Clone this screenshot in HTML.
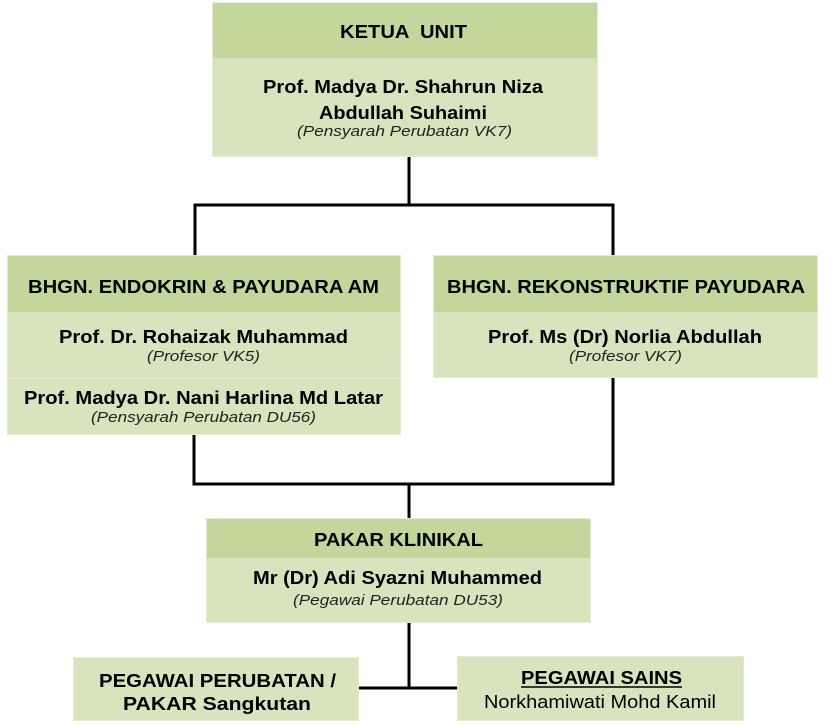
<!DOCTYPE html>
<html>
<head>
<meta charset="utf-8">
<style>
html,body{margin:0;padding:0;background:#fff;}
svg{display:block;}
text{font-family:"Liberation Sans",Arial,sans-serif;fill:#000;}
.b{font-weight:bold;font-size:18px;}
.i{font-style:italic;font-size:14.5px;fill:#222;}
.r{font-size:18px;}
</style>
</head>
<body>
<svg width="826" height="726" viewBox="0 0 826 726" xmlns="http://www.w3.org/2000/svg">
  <!-- connectors -->
  <g stroke="#000" stroke-width="3" fill="none" stroke-linecap="square">
    <line x1="409" y1="157" x2="409" y2="205"/>
    <line x1="195" y1="205" x2="613" y2="205"/>
    <line x1="195" y1="205" x2="195" y2="255"/>
    <line x1="613" y1="205" x2="613" y2="255"/>
    <line x1="194" y1="435" x2="194" y2="484"/>
    <line x1="613" y1="378" x2="613" y2="484"/>
    <line x1="194" y1="484" x2="613" y2="484"/>
    <line x1="409" y1="484" x2="409" y2="518"/>
    <line x1="409" y1="623" x2="409" y2="688"/>
    <line x1="359" y1="688" x2="457" y2="688"/>
  </g>

  <!-- Top box -->
  <rect x="212" y="2" width="386" height="56" fill="#c3d69b"/>
  <rect x="212" y="58" width="386" height="99" fill="#d7e4bd"/>
  <rect x="212.5" y="2.5" width="385" height="154" fill="none" stroke="#e3ebd2" stroke-width="1"/>
  <text class="b" x="340" y="38" textLength="127" lengthAdjust="spacingAndGlyphs" xml:space="preserve">KETUA  UNIT</text>
  <text class="b" x="263" y="93" textLength="280" lengthAdjust="spacingAndGlyphs">Prof. Madya Dr. Shahrun Niza</text>
  <text class="b" x="319" y="119" textLength="168" lengthAdjust="spacingAndGlyphs">Abdullah Suhaimi</text>
  <text class="i" x="297" y="136" textLength="215" lengthAdjust="spacingAndGlyphs">(Pensyarah Perubatan VK7)</text>

  <!-- Left box -->
  <rect x="7" y="255" width="394" height="57" fill="#c3d69b"/>
  <rect x="7" y="312" width="394" height="123" fill="#d7e4bd"/>
  <line x1="7" y1="378.5" x2="401" y2="378.5" stroke="#e6eed9" stroke-width="1"/>
  <rect x="7.5" y="255.5" width="393" height="179" fill="none" stroke="#e3ebd2" stroke-width="1"/>
  <text class="b" x="28" y="293" textLength="351" lengthAdjust="spacingAndGlyphs">BHGN. ENDOKRIN &amp; PAYUDARA AM</text>
  <text class="b" x="59" y="343" textLength="289" lengthAdjust="spacingAndGlyphs">Prof. Dr. Rohaizak Muhammad</text>
  <text class="i" x="147" y="361" textLength="113" lengthAdjust="spacingAndGlyphs">(Profesor VK5)</text>
  <text class="b" x="24" y="404" textLength="359" lengthAdjust="spacingAndGlyphs">Prof. Madya Dr. Nani Harlina Md Latar</text>
  <text class="i" x="91" y="422" textLength="225" lengthAdjust="spacingAndGlyphs">(Pensyarah Perubatan DU56)</text>

  <!-- Right box -->
  <rect x="433" y="255" width="385" height="57" fill="#c3d69b"/>
  <rect x="433" y="312" width="385" height="66" fill="#d7e4bd"/>
  <rect x="433.5" y="255.5" width="384" height="122" fill="none" stroke="#e3ebd2" stroke-width="1"/>
  <text class="b" x="447" y="293" textLength="358" lengthAdjust="spacingAndGlyphs">BHGN. REKONSTRUKTIF PAYUDARA</text>
  <text class="b" x="488" y="343" textLength="274" lengthAdjust="spacingAndGlyphs">Prof. Ms (Dr) Norlia Abdullah</text>
  <text class="i" x="569" y="361" textLength="113" lengthAdjust="spacingAndGlyphs">(Profesor VK7)</text>

  <!-- Pakar Klinikal -->
  <rect x="206" y="518" width="385" height="40" fill="#c3d69b"/>
  <rect x="206" y="558" width="385" height="65" fill="#d7e4bd"/>
  <rect x="206.5" y="518.5" width="384" height="104" fill="none" stroke="#e3ebd2" stroke-width="1"/>
  <text class="b" x="314" y="546" textLength="169" lengthAdjust="spacingAndGlyphs">PAKAR KLINIKAL</text>
  <text class="b" x="253" y="584" textLength="289" lengthAdjust="spacingAndGlyphs">Mr (Dr) Adi Syazni Muhammed</text>
  <text class="i" x="293" y="605" textLength="210" lengthAdjust="spacingAndGlyphs">(Pegawai Perubatan DU53)</text>

  <!-- Bottom left -->
  <rect x="73" y="657" width="286" height="64" fill="#d7e4bd"/>
  <rect x="73.5" y="657.5" width="285" height="63" fill="none" stroke="#e3ebd2" stroke-width="1"/>
  <text class="b" x="99" y="687" textLength="237" lengthAdjust="spacingAndGlyphs">PEGAWAI PERUBATAN /</text>
  <text class="b" x="123" y="710" textLength="188" lengthAdjust="spacingAndGlyphs">PAKAR Sangkutan</text>

  <!-- Bottom right -->
  <rect x="457" y="656" width="287" height="65" fill="#d7e4bd"/>
  <rect x="457.5" y="656.5" width="286" height="64" fill="none" stroke="#e3ebd2" stroke-width="1"/>
  <text class="b" x="521" y="684" textLength="161" lengthAdjust="spacingAndGlyphs">PEGAWAI SAINS</text>
  <line x1="521" y1="687" x2="682" y2="687" stroke="#000" stroke-width="1.5"/>
  <text class="r" x="484" y="708" textLength="232" lengthAdjust="spacingAndGlyphs">Norkhamiwati Mohd Kamil</text>
</svg>
</body>
</html>
